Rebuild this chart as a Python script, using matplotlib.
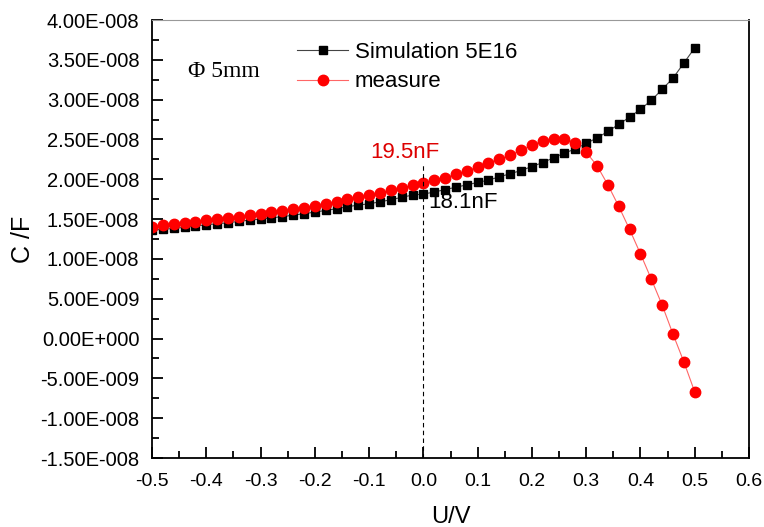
import numpy as np
import matplotlib
matplotlib.use('Agg')
import matplotlib.pyplot as plt
from matplotlib.ticker import MultipleLocator, FuncFormatter

# bias voltage (V), 0.02 V steps
u = [-0.50, -0.48, -0.46, -0.44, -0.42, -0.40, -0.38, -0.36, -0.34, -0.32,
     -0.30, -0.28, -0.26, -0.24, -0.22, -0.20, -0.18, -0.16, -0.14, -0.12,
     -0.10, -0.08, -0.06, -0.04, -0.02, 0.00, 0.02, 0.04, 0.06, 0.08,
     0.10, 0.12, 0.14, 0.16, 0.18, 0.20, 0.22, 0.24, 0.26, 0.28,
     0.30, 0.32, 0.34, 0.36, 0.38, 0.40, 0.42, 0.44, 0.46, 0.48, 0.50]

# capacitance in units of 1e-8 F
sim = [1.362, 1.370, 1.383, 1.396, 1.412, 1.429, 1.441, 1.454, 1.471, 1.487,
       1.500, 1.517, 1.529, 1.550, 1.567, 1.588, 1.609, 1.630, 1.655, 1.676,
       1.692, 1.717, 1.743, 1.773, 1.802, 1.814, 1.84, 1.87, 1.90, 1.93,
       1.96, 1.99, 2.03, 2.07, 2.11, 2.16, 2.21, 2.27, 2.33, 2.38,
       2.45, 2.52, 2.60, 2.69, 2.78, 2.88, 2.99, 3.13, 3.27, 3.46, 3.65]
meas = [1.404, 1.425, 1.437, 1.446, 1.462, 1.487, 1.500, 1.509, 1.529, 1.550,
        1.567, 1.584, 1.604, 1.626, 1.642, 1.663, 1.688, 1.717, 1.747, 1.773,
        1.798, 1.823, 1.864, 1.889, 1.923, 1.948, 1.99, 2.02, 2.06, 2.11,
        2.15, 2.21, 2.25, 2.30, 2.37, 2.43, 2.48, 2.51, 2.51, 2.46,
        2.34, 2.17, 1.93, 1.66, 1.37, 1.064, 0.746, 0.42, 0.055, -0.293, -0.67]

sim = np.array(sim) * 1e-8
meas = np.array(meas) * 1e-8

plt.rcParams['font.family'] = ['Liberation Sans', 'DejaVu Sans']

fig = plt.figure(figsize=(7.64, 5.27), dpi=100)
ax = fig.add_axes([152 / 764, 1 - 458 / 527, 597 / 764, 438 / 527])

ax.plot(u, sim, color='#444444', lw=0.8, marker='s', ms=6,
        mfc='black', mec='black', label='Simulation 5E16')
ax.plot(u, meas, color='#ff6666', lw=0.8, marker='o', ms=7.5,
        mfc='red', mec='red', label='measure')

# guide line at 0 V
ax.plot([0, 0], [-1.5e-8, 2.2e-8], color='black', lw=0.8, ls=(0, (4, 3)))

ax.text(-0.098, 2.33e-8, '19.5nF', color='#dd0000', fontsize=16,
        ha='left', va='center')
ax.text(0.009, 1.71e-8, '18.1nF', color='black', fontsize=16,
        ha='left', va='center')
ax.text(-0.434, 3.35e-8, 'Φ 5mm', fontsize=17,
        family=['Liberation Serif', 'DejaVu Serif'], va='center')

ax.set_xlim(-0.5, 0.6)
ax.set_ylim(-1.5e-8, 4.0e-8)
ax.xaxis.set_major_locator(MultipleLocator(0.1))
ax.xaxis.set_minor_locator(MultipleLocator(0.05))
ax.yaxis.set_major_locator(MultipleLocator(0.5e-8))
ax.yaxis.set_minor_locator(MultipleLocator(0.25e-8))


def yfmt(v, pos):
    if abs(v) < 1e-20:
        return '0.00E+000'
    s = '{:.2E}'.format(v)
    m, e = s.split('E')
    return '{}E{}{:03d}'.format(m, e[0], abs(int(e)))


ax.yaxis.set_major_formatter(FuncFormatter(yfmt))
ax.xaxis.set_major_formatter(FuncFormatter(lambda v, p: '{:.1f}'.format(v)))

ax.tick_params(which='both', direction='in', top=False, right=False,
               width=1.3, colors='black')
ax.tick_params(which='major', length=8)
ax.tick_params(which='minor', length=5)
ax.tick_params(axis='x', labelsize=14, pad=11)
ax.tick_params(axis='y', labelsize=14.5, pad=9)

for s in ['left', 'bottom', 'right']:
    ax.spines[s].set_linewidth(1.3)
ax.spines['top'].set_color('#999999')

ax.set_xlabel('U/V', fontsize=17, labelpad=11)
ax.set_ylabel('C /F', fontsize=18, labelpad=4)

ax.legend(loc='upper left', bbox_to_anchor=(0.243, 0.95), frameon=False,
          fontsize=16, handlelength=2.3, handletextpad=0.3,
          labelspacing=0.38, borderpad=0, borderaxespad=0)

fig.savefig('out.png', dpi=100)
